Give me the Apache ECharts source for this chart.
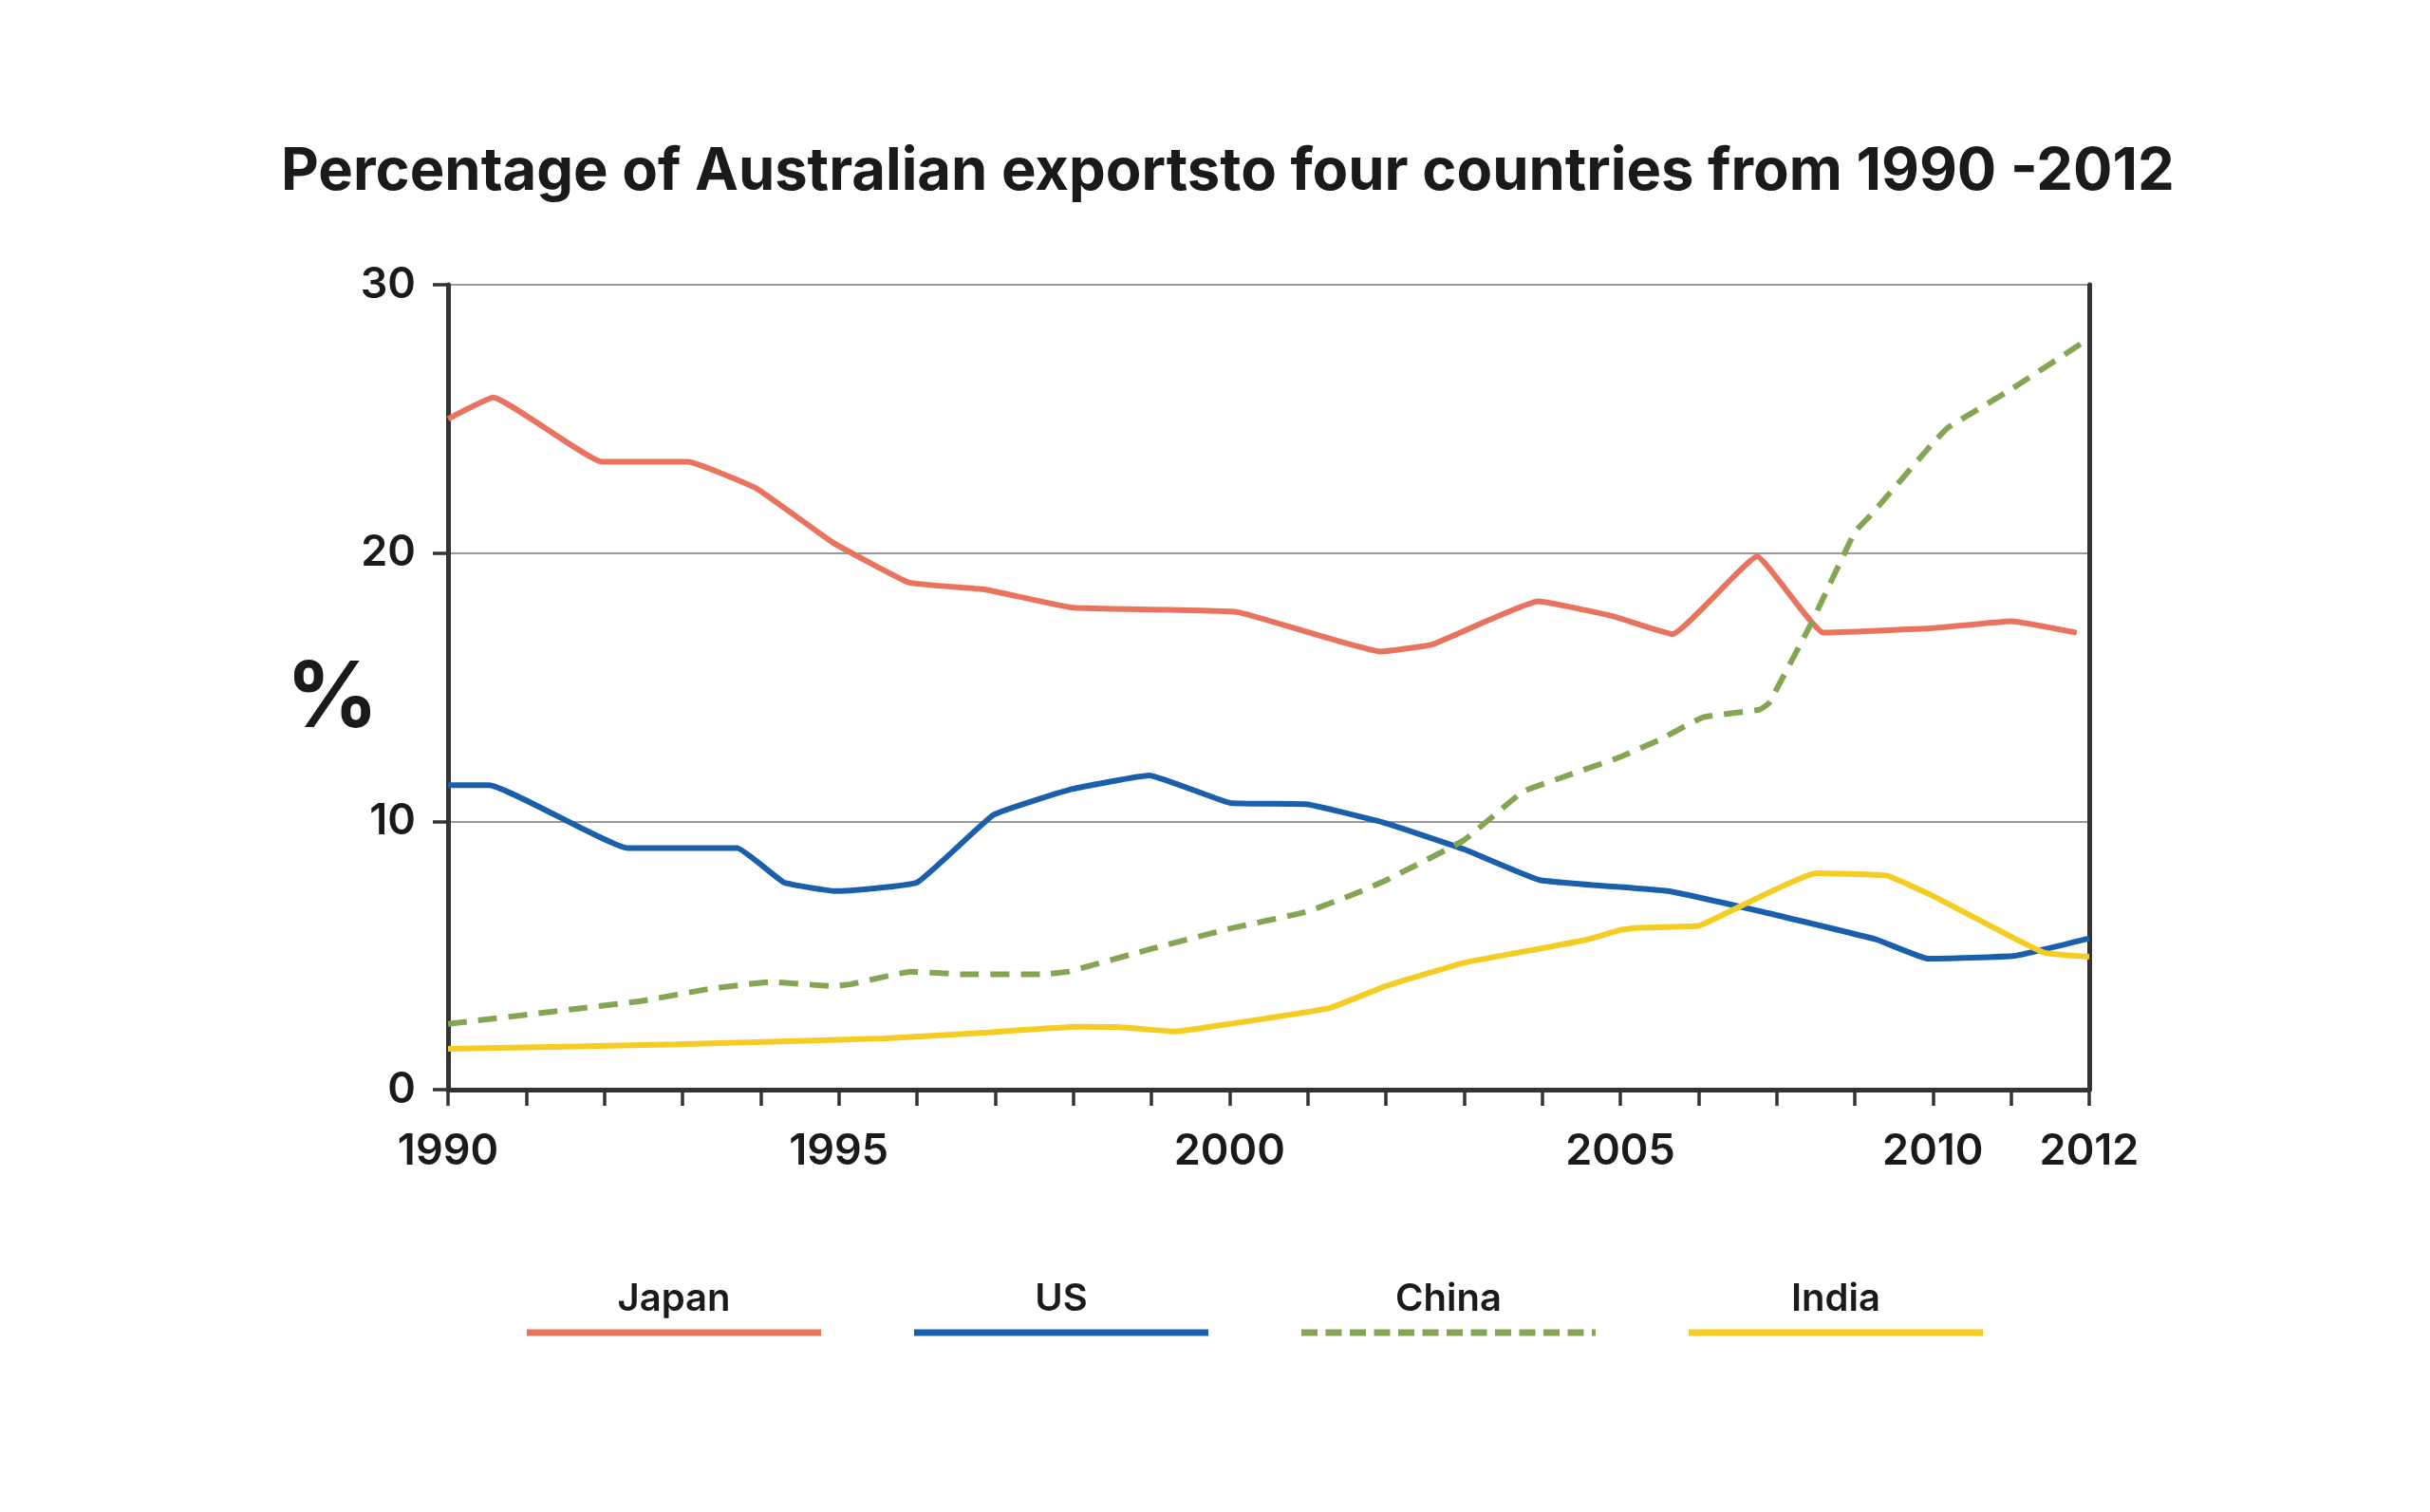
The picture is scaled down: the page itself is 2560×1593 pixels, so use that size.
<!DOCTYPE html>
<html>
<head>
<meta charset="utf-8">
<script src="https://cdn.jsdelivr.net/npm/echarts@6/dist/echarts.min.js"></script>
<style>
  html, body { margin: 0; padding: 0; background: #ffffff; }
  #chart { width: 2560px; height: 1593px; }
</style>
</head>
<body>
<div id="chart"></div>
<script>
// ---- data (x = tick position along the axis, 0..21; y = percent) ----
const titleText = 'Percentage of Australian exportsto four countries from 1990 -2012';
const yAxisTitle = '%';
const xTickLabels = ['1990','','','','','1995','','','','','2000','','','','','2005','','','','2010','','2012'];
const yTicks = [0, 10, 20, 30];
const seriesNames = ['Japan', 'US', 'China', 'India'];
const japan = [[0,25.0],[0.58,25.8],[1.97,23.4],[3.07,23.4],[3.95,22.4],[4.92,20.4],[5.9,18.9],[6.85,18.65],[8.0,17.96],[10.1,17.8],[11.93,16.33],[12.6,16.6],[13.95,18.2],[14.9,17.65],[15.67,16.98],[16.75,19.87],[17.6,17.03],[19.0,17.2],[20.0,17.46],[20.84,17.03]];
const us = [[0,11.35],[0.53,11.35],[2.3,9.0],[3.7,9.0],[4.3,7.72],[4.96,7.4],[6.0,7.72],[6.98,10.24],[7.98,11.2],[8.97,11.71],[10.0,10.69],[11.0,10.63],[12.0,9.93],[13.0,8.96],[13.97,7.81],[15.6,7.4],[16.9,6.57],[18.27,5.6],[18.94,4.88],[20.05,4.99],[21,5.64]];
const china = [[0,2.45],[1.6,3.0],[2.47,3.3],[3.33,3.75],[4.13,4.01],[4.92,3.86],[5.16,3.93],[5.92,4.4],[6.58,4.3],[7.58,4.3],[7.94,4.4],[9.0,5.25],[10.0,6.0],[11.0,6.64],[11.63,7.33],[12.0,7.8],[13.0,9.3],[13.75,11.1],[14.18,11.56],[15.0,12.4],[15.53,13.08],[16.06,13.88],[16.78,14.16],[16.9,14.4],[17.45,17.42],[18.0,20.78],[18.2,21.4],[19.0,24.1],[19.2,24.69],[20.0,26.1],[21.0,28.0]];
const india = [[0,1.52],[2.93,1.69],[5.59,1.91],[6.91,2.13],[8.04,2.34],[8.6,2.33],[9.3,2.17],[10.0,2.45],[11.28,3.04],[12.0,3.86],[13.0,4.73],[14.0,5.27],[14.58,5.6],[15.0,5.95],[15.24,6.03],[16.0,6.1],[16.2,6.36],[17.5,8.07],[18.41,7.98],[19.0,7.22],[20.0,5.7],[20.43,5.1],[21.0,4.95]];

// ---- styling ----
const colors = ['#e8745f', '#1a5fab', '#84a654', '#f5cd22'];
const dashed = [false, false, true, false];
const seriesData = [japan, us, china, india];
const FONT = 'Inter, "Noto Sans", sans-serif';
const axisDark = '#333333';

const chart = echarts.init(document.getElementById('chart'), null, { renderer: 'canvas' });

const series = seriesNames.map((name, i) => ({
  name: name,
  type: 'line',
  data: seriesData[i],
  showSymbol: false,
  symbol: 'none',
  smooth: 0.1,
  z: 3,
  lineStyle: {
    color: colors[i],
    width: 6,
    type: dashed[i] ? [20, 12] : 'solid',
    cap: 'butt'
  }
}));

// legend built as text above a line sample
const graphics = [];
const legStart = 555, legStep = 408, legLen = 310, legLineY = 1404, legTextY = 1369;
seriesNames.forEach((name, i) => {
  const x0 = legStart + i * legStep;
  graphics.push({
    type: 'line',
    shape: { x1: x0, y1: legLineY, x2: x0 + legLen, y2: legLineY },
    style: { stroke: colors[i], lineWidth: 7, lineDash: dashed[i] ? [17, 8.5] : null }
  });
  graphics.push({
    type: 'text',
    x: x0 + legLen / 2,
    y: legTextY,
    style: { text: name, font: '600 40px ' + FONT, fill: '#1a1a1a', textAlign: 'center', textVerticalAlign: 'middle' }
  });
});
// y-axis title
graphics.push({
  type: 'text',
  x: 350,
  y: 737,
  style: { text: yAxisTitle, font: '700 96px ' + FONT, fill: '#1a1a1a', textAlign: 'center', textVerticalAlign: 'middle' }
});

chart.setOption({
  backgroundColor: '#ffffff',
  animation: false,
  title: {
    text: titleText,
    left: 291,
    top: 146,
    textStyle: { fontFamily: FONT, fontWeight: 700, fontSize: 61.5, color: '#1a1a1a' }
  },
  grid: { left: 472, right: 359, top: 300, bottom: 445, containLabel: false },
  xAxis: {
    type: 'value',
    min: 0,
    max: xTickLabels.length - 1,
    interval: 1,
    axisLine: { show: true, lineStyle: { color: axisDark, width: 5 } },
    axisTick: { show: true, inside: false, length: 17, lineStyle: { color: axisDark, width: 3.5 } },
    axisLabel: {
      show: true,
      margin: 43,
      showMinLabel: true,
      showMaxLabel: true,
      formatter: v => xTickLabels[Math.round(v)] || '',
      fontFamily: FONT, fontWeight: 600, fontSize: 45, color: '#1a1a1a'
    },
    splitLine: { show: false }
  },
  yAxis: [{
    type: 'value',
    min: yTicks[0],
    max: yTicks[yTicks.length - 1],
    interval: 10,
    axisLine: { show: true, lineStyle: { color: axisDark, width: 5 } },
    axisTick: { show: true, inside: false, length: 16, lineStyle: { color: axisDark, width: 3.5 } },
    axisLabel: { margin: 34, fontFamily: FONT, fontWeight: 600, fontSize: 45, color: '#1a1a1a' },
    splitLine: { show: true, lineStyle: { color: '#9a9a9a', width: 2 } }
  }, {
    type: 'value',
    position: 'right',
    min: yTicks[0],
    max: yTicks[yTicks.length - 1],
    interval: 10,
    axisLine: { show: true, lineStyle: { color: axisDark, width: 5 } },
    axisTick: { show: false },
    axisLabel: { show: false },
    splitLine: { show: false }
  }],
  series: series,
  graphic: graphics
});
</script>
</body>
</html>
